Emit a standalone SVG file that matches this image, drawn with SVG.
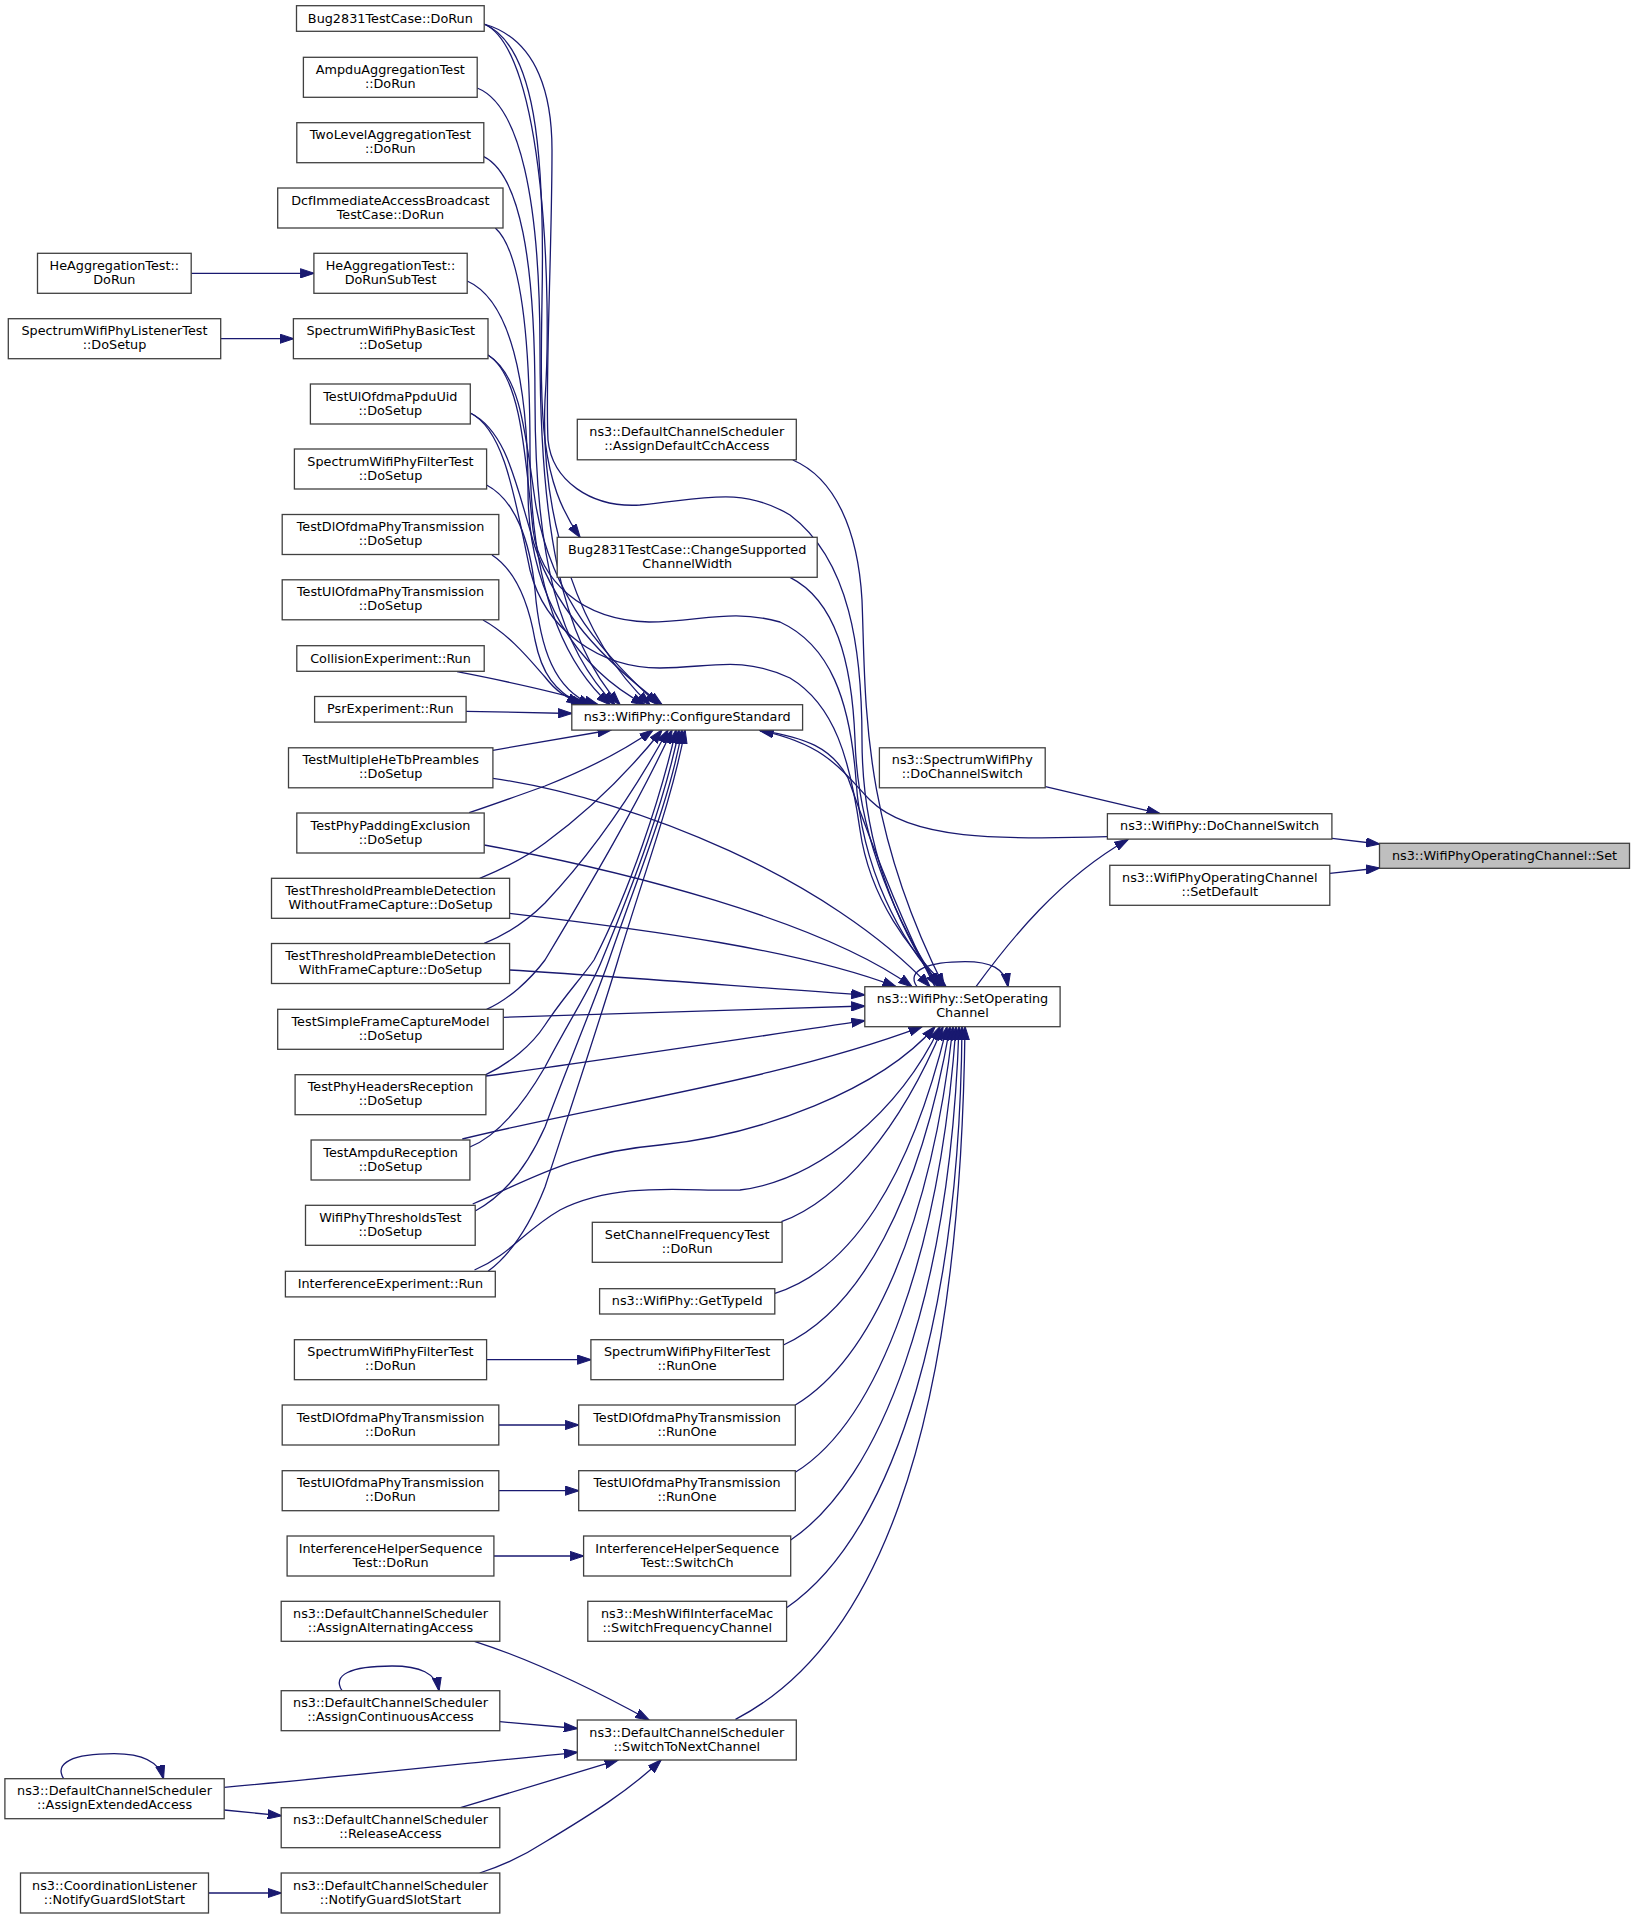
<svg xmlns="http://www.w3.org/2000/svg" width="1635" height="1919" viewBox="0 0 1635 1919">
<style>
.n rect{fill:#ffffff;stroke:#404040;stroke-width:1.3}
.n.cur rect{fill:#bfbfbf}
.n text{font-family:"DejaVu Sans","Liberation Sans",sans-serif;font-size:12.8px;text-anchor:middle;fill:#000}
.e path{fill:none;stroke:#191970;stroke-width:1.3;marker-end:url(#ah)}
</style>
<defs>
<marker id="ah" markerUnits="userSpaceOnUse" markerWidth="14" markerHeight="10" viewBox="0 0 14 10" refX="13.5" refY="5" orient="auto"><path d="M0,0.4 L14,5 L0,9.6 z" fill="#191970" stroke="#191970" stroke-width="1"/></marker>
</defs>
<rect width="1635" height="1919" fill="#ffffff"/>
<g id="edges" class="e">
<path d="M191.2,273.3 L313.9,273.3"/>
<path d="M220.7,338.7 L293.4,338.7"/>
<path d="M486.6,1359.7 L590.9,1359.7"/>
<path d="M498.8,1425 L578.7,1425"/>
<path d="M498.8,1490.7 L578.7,1490.7"/>
<path d="M493.9,1556 L583.6,1556"/>
<path d="M208.5,1893 L281.2,1893"/>
<path d="M224.2,1810 L281.2,1815.7"/>
<path d="M224.2,1787.3 C 340,1777 460,1764 577.3,1752.3"/>
<path d="M499.8,1721.7 L577.3,1728.5"/>
<path d="M474.4,1641.3 C 520,1656 580,1682 649,1720"/>
<path d="M460.5,1807.7 C 500,1796 560,1778 618,1760"/>
<path d="M479.7,1873 C 505,1865 525,1855 545,1842 C 590,1815 630,1790 661,1760"/>
<path d="M342,1690.7 C 332,1675 350,1666 392,1666 C 420,1666 436,1673 439,1690.7"/>
<path d="M63.6,1778.7 C 54,1763 72,1753.7 114,1753.7 C 142,1753.7 159,1761 163.4,1778.7"/>
<path d="M917,986.7 C 905,970 930,961.7 965,961.7 C 990,961.7 1005,968 1008,986.7"/>
<path d="M976,986.7 C 1010,940 1060,878 1128,839.5"/>
<path d="M1107.4,836.7 C 1000,840 910,840 870,800 C 845,775 830,745 760,730.5"/>
<path d="M935,986.7 C 900,920 870,840 848,778 C 832,748 805,737 760,730.5"/>
<path d="M1045.5,786.7 L1160,813.7"/>
<path d="M1332,838.3 L1379.5,844"/>
<path d="M1329.8,873.3 L1379.5,868"/>
<path d="M792.8,460 C 835,478 858,530 862,600 C 866,700 860,820 944,986.7"/>
<path d="M790,577.3 C 835,600 852,660 855,740 C 858,840 900,930 940,986.7"/>
<path d="M484,24 C 535,45 545,150 542,300 C 540,420 540,480 580,537.3"/>
<path d="M484,24 C 545,50 552,300 545,400 C 540,520 580,640 650,704.7"/>
<path d="M484,24 C 540,40 552,100 552,150 C 552,250 545,380 548,440 C 552,480 590,508 640,505 C 700,500 740,485 790,515 C 850,560 862,650 862,740 C 862,850 900,930 938,986.7"/>
<path d="M477.2,88 C 520,105 540,200 540,350 C 540,520 560,640 620,704.7"/>
<path d="M483.8,156.7 C 520,175 535,260 535,400 C 535,560 560,650 615,704.7"/>
<path d="M495.3,228 C 520,250 530,330 530,450 C 530,580 560,660 610,704.7"/>
<path d="M467.2,281 C 510,300 528,380 528,490 C 528,600 580,670 645,704.7"/>
<path d="M488,355 C 520,375 525,430 535,500 C 550,600 610,660 658,704.7"/>
<path d="M470.3,413 C 505,430 515,480 530,530 C 550,610 610,665 662,704.7"/>
<path d="M488,355 C 520,375 525,450 533,530 C 540,580 580,620 649,622 C 700,622 730,608 780,622 C 830,645 850,700 856,780 C 862,870 900,940 942,986.7"/>
<path d="M470.3,413 C 505,430 515,500 530,570 C 545,630 600,668 660,668 C 710,668 740,655 790,678 C 835,705 850,760 860,830 C 870,900 910,950 946,986.7"/>
<path d="M486.6,485 C 515,500 530,540 535,590 C 540,650 555,690 592,704.7"/>
<path d="M492,555 C 515,570 528,600 535,640 C 542,675 555,690 580,704.7"/>
<path d="M483,620 C 510,635 530,660 545,677 C 555,690 565,698 585,704.7"/>
<path d="M457,671.7 C 500,680 560,693 598,704.7"/>
<path d="M466,711.3 L571.8,713.5"/>
<path d="M492.9,750.3 C 530,744 570,737 611,730"/>
<path d="M469.2,812.7 C 495,804 520,795 545,786 C 590,768 625,750 653,730"/>
<path d="M479.7,878.3 C 500,870 525,858 545,843 C 590,810 630,770 662,730"/>
<path d="M484.2,943.3 C 505,935 528,920 545,903 C 595,850 635,790 668,730"/>
<path d="M486.6,1009.3 C 508,1000 530,980 545,960 C 590,885 640,800 672,730"/>
<path d="M485.9,1074.7 C 510,1063 532,1045 545,1025 C 565,995 580,980 594,960 C 630,890 660,800 676,730"/>
<path d="M469.9,1147 C 495,1137 520,1110 545,1067 C 575,1010 590,990 602,960 C 635,880 665,800 679,730"/>
<path d="M475.2,1211 C 505,1195 528,1165 545,1127 C 570,1060 595,1000 609,960 C 640,870 670,800 682,730"/>
<path d="M488,1271.3 C 510,1255 530,1225 545,1187 C 570,1110 600,1020 618,960 C 645,870 672,800 685,730"/>
<path d="M492.9,778.3 C 640,800 830,880 930,986.7"/>
<path d="M484.2,845 C 620,870 820,920 912,986.7"/>
<path d="M509.6,913.3 C 650,930 800,950 896,986.7"/>
<path d="M509.6,970 C 640,978 760,988 864.8,995"/>
<path d="M503.3,1017.3 C 640,1013 760,1009 864.8,1006"/>
<path d="M486,1076 C 620,1058 760,1036 864.8,1020.7"/>
<path d="M462.3,1139 C 600,1105 780,1080 922,1026.7"/>
<path d="M472.7,1204 C 530,1180 570,1153 660,1145 C 760,1135 880,1090 935,1026.7"/>
<path d="M474.5,1270 C 510,1255 525,1230 560,1210 C 620,1180 690,1192 740,1190 C 820,1180 900,1110 940,1026.7"/>
<path d="M781.4,1221.7 C 840,1200 900,1130 943,1026.7"/>
<path d="M775,1293.3 C 850,1270 910,1180 947,1026.7"/>
<path d="M783.4,1345 C 860,1310 920,1200 950,1026.7"/>
<path d="M795.3,1405 C 870,1360 930,1230 953,1026.7"/>
<path d="M795.3,1472.3 C 880,1420 940,1250 956,1026.7"/>
<path d="M790.7,1540 C 880,1480 950,1300 959,1026.7"/>
<path d="M786.6,1607.7 C 900,1530 960,1300 962,1026.7"/>
<path d="M735.5,1719.3 C 870,1650 960,1450 965,1026.7"/>
</g>
<g id="n_bug_dorun" class="n"><rect x="296.5" y="5.7" width="187.7" height="25.6"/><text x="390.35" y="22.5">Bug2831TestCase::DoRun</text></g>
<g id="n_ampdu" class="n"><rect x="303.4" y="57.3" width="173.8" height="40"/><text x="390.3" y="73.8">AmpduAggregationTest</text><text x="390.3" y="87.8">::DoRun</text></g>
<g id="n_twolevel" class="n"><rect x="296.8" y="122.7" width="187" height="40"/><text x="390.3" y="139.2">TwoLevelAggregationTest</text><text x="390.3" y="153.2">::DoRun</text></g>
<g id="n_dcf" class="n"><rect x="277.7" y="188" width="225.3" height="40"/><text x="390.35" y="204.5">DcfImmediateAccessBroadcast</text><text x="390.35" y="218.5">TestCase::DoRun</text></g>
<g id="n_hesub" class="n"><rect x="313.9" y="253.3" width="153.3" height="40"/><text x="390.55" y="269.8">HeAggregationTest::</text><text x="390.55" y="283.8">DoRunSubTest</text></g>
<g id="n_hedorun" class="n"><rect x="37.5" y="253.3" width="153.7" height="40"/><text x="114.35" y="269.8">HeAggregationTest::</text><text x="114.35" y="283.8">DoRun</text></g>
<g id="n_specbasic" class="n"><rect x="293.4" y="318.7" width="194.6" height="40"/><text x="390.7" y="335.2">SpectrumWifiPhyBasicTest</text><text x="390.7" y="349.2">::DoSetup</text></g>
<g id="n_speclistener" class="n"><rect x="8.3" y="318.7" width="212.4" height="40"/><text x="114.5" y="335.2">SpectrumWifiPhyListenerTest</text><text x="114.5" y="349.2">::DoSetup</text></g>
<g id="n_ulppdu" class="n"><rect x="310.4" y="384" width="159.9" height="40"/><text x="390.35" y="400.5">TestUlOfdmaPpduUid</text><text x="390.35" y="414.5">::DoSetup</text></g>
<g id="n_specfilter_setup" class="n"><rect x="294.4" y="449" width="192.2" height="40"/><text x="390.5" y="465.5">SpectrumWifiPhyFilterTest</text><text x="390.5" y="479.5">::DoSetup</text></g>
<g id="n_dl_setup" class="n"><rect x="282.2" y="514.5" width="216.6" height="40"/><text x="390.5" y="531">TestDlOfdmaPhyTransmission</text><text x="390.5" y="545">::DoSetup</text></g>
<g id="n_ul_setup" class="n"><rect x="282.2" y="579.8" width="216.6" height="40"/><text x="390.5" y="596.3">TestUlOfdmaPhyTransmission</text><text x="390.5" y="610.3">::DoSetup</text></g>
<g id="n_collision" class="n"><rect x="296.8" y="645.7" width="187.4" height="25.6"/><text x="390.5" y="662.5">CollisionExperiment::Run</text></g>
<g id="n_psr" class="n"><rect x="314.6" y="696.5" width="151.5" height="25.6"/><text x="390.35" y="713.3">PsrExperiment::Run</text></g>
<g id="n_multihetb" class="n"><rect x="288.5" y="747.8" width="204.4" height="40"/><text x="390.7" y="764.3">TestMultipleHeTbPreambles</text><text x="390.7" y="778.3">::DoSetup</text></g>
<g id="n_padding" class="n"><rect x="296.8" y="813" width="187.4" height="40"/><text x="390.5" y="829.5">TestPhyPaddingExclusion</text><text x="390.5" y="843.5">::DoSetup</text></g>
<g id="n_withoutfc" class="n"><rect x="271.5" y="878.3" width="238.1" height="40"/><text x="390.55" y="894.8">TestThresholdPreambleDetection</text><text x="390.55" y="908.8">WithoutFrameCapture::DoSetup</text></g>
<g id="n_withfc" class="n"><rect x="271.5" y="943.5" width="238.1" height="40"/><text x="390.55" y="960">TestThresholdPreambleDetection</text><text x="390.55" y="974">WithFrameCapture::DoSetup</text></g>
<g id="n_simplefc" class="n"><rect x="277.7" y="1009.3" width="225.6" height="40"/><text x="390.5" y="1025.8">TestSimpleFrameCaptureModel</text><text x="390.5" y="1039.8">::DoSetup</text></g>
<g id="n_phyheaders" class="n"><rect x="295.1" y="1074.7" width="190.8" height="40"/><text x="390.5" y="1091.2">TestPhyHeadersReception</text><text x="390.5" y="1105.2">::DoSetup</text></g>
<g id="n_ampdurx" class="n"><rect x="311.1" y="1140" width="158.8" height="40"/><text x="390.5" y="1156.5">TestAmpduReception</text><text x="390.5" y="1170.5">::DoSetup</text></g>
<g id="n_thresholds" class="n"><rect x="305.5" y="1205.3" width="169.7" height="40"/><text x="390.35" y="1221.8">WifiPhyThresholdsTest</text><text x="390.35" y="1235.8">::DoSetup</text></g>
<g id="n_interfexp" class="n"><rect x="285.4" y="1271.3" width="209.9" height="25.6"/><text x="390.35" y="1288.1">InterferenceExperiment::Run</text></g>
<g id="n_specfilter_run" class="n"><rect x="294.4" y="1339.7" width="192.2" height="40"/><text x="390.5" y="1356.2">SpectrumWifiPhyFilterTest</text><text x="390.5" y="1370.2">::DoRun</text></g>
<g id="n_dl_run" class="n"><rect x="282.2" y="1405" width="216.6" height="40"/><text x="390.5" y="1421.5">TestDlOfdmaPhyTransmission</text><text x="390.5" y="1435.5">::DoRun</text></g>
<g id="n_ul_run" class="n"><rect x="282.2" y="1470.7" width="216.6" height="40"/><text x="390.5" y="1487.2">TestUlOfdmaPhyTransmission</text><text x="390.5" y="1501.2">::DoRun</text></g>
<g id="n_ihs_run" class="n"><rect x="287.1" y="1536" width="206.8" height="40"/><text x="390.5" y="1552.5">InterferenceHelperSequence</text><text x="390.5" y="1566.5">Test::DoRun</text></g>
<g id="n_alternating" class="n"><rect x="281.2" y="1601.3" width="218.6" height="40"/><text x="390.5" y="1617.8">ns3::DefaultChannelScheduler</text><text x="390.5" y="1631.8">::AssignAlternatingAccess</text></g>
<g id="n_continuous" class="n"><rect x="281.2" y="1690.7" width="218.6" height="40"/><text x="390.5" y="1707.2">ns3::DefaultChannelScheduler</text><text x="390.5" y="1721.2">::AssignContinuousAccess</text></g>
<g id="n_extended" class="n"><rect x="4.9" y="1778.7" width="219.3" height="40"/><text x="114.55" y="1795.2">ns3::DefaultChannelScheduler</text><text x="114.55" y="1809.2">::AssignExtendedAccess</text></g>
<g id="n_release" class="n"><rect x="281.2" y="1807.7" width="218.6" height="40"/><text x="390.5" y="1824.2">ns3::DefaultChannelScheduler</text><text x="390.5" y="1838.2">::ReleaseAccess</text></g>
<g id="n_coordlistener" class="n"><rect x="20.5" y="1873" width="188" height="40"/><text x="114.5" y="1889.5">ns3::CoordinationListener</text><text x="114.5" y="1903.5">::NotifyGuardSlotStart</text></g>
<g id="n_dcs_guard" class="n"><rect x="281.2" y="1873" width="218.6" height="40"/><text x="390.5" y="1889.5">ns3::DefaultChannelScheduler</text><text x="390.5" y="1903.5">::NotifyGuardSlotStart</text></g>
<g id="n_defaultcch" class="n"><rect x="577.3" y="419.3" width="219" height="40.5"/><text x="686.8" y="436">ns3::DefaultChannelScheduler</text><text x="686.8" y="450">::AssignDefaultCchAccess</text></g>
<g id="n_changesupported" class="n"><rect x="557.2" y="537.3" width="260" height="40"/><text x="687.2" y="553.8">Bug2831TestCase::ChangeSupported</text><text x="687.2" y="567.8">ChannelWidth</text></g>
<g id="n_configure" class="n"><rect x="571.8" y="704.7" width="230.8" height="25.4"/><text x="687.2" y="721.4">ns3::WifiPhy::ConfigureStandard</text></g>
<g id="n_spectrum_dcs" class="n"><rect x="879.4" y="747.8" width="165.8" height="40"/><text x="962.3" y="764.3">ns3::SpectrumWifiPhy</text><text x="962.3" y="778.3">::DoChannelSwitch</text></g>
<g id="n_dochannelswitch" class="n"><rect x="1107.4" y="813.7" width="224.5" height="25.4"/><text x="1219.65" y="830.4">ns3::WifiPhy::DoChannelSwitch</text></g>
<g id="n_set" class="n cur"><rect x="1379.5" y="843.3" width="250" height="25"/><text x="1504.5" y="859.8">ns3::WifiPhyOperatingChannel::Set</text></g>
<g id="n_setdefault" class="n"><rect x="1109.8" y="865.3" width="220" height="40"/><text x="1219.8" y="881.8">ns3::WifiPhyOperatingChannel</text><text x="1219.8" y="895.8">::SetDefault</text></g>
<g id="n_setop" class="n"><rect x="864.8" y="986.7" width="195.3" height="40"/><text x="962.45" y="1003.2">ns3::WifiPhy::SetOperating</text><text x="962.45" y="1017.2">Channel</text></g>
<g id="n_setchanfreq" class="n"><rect x="592.3" y="1222.3" width="189.8" height="40"/><text x="687.2" y="1238.8">SetChannelFrequencyTest</text><text x="687.2" y="1252.8">::DoRun</text></g>
<g id="n_gettypeid" class="n"><rect x="599.6" y="1288.7" width="175.2" height="25.3"/><text x="687.2" y="1305.3">ns3::WifiPhy::GetTypeId</text></g>
<g id="n_specfilter_runone" class="n"><rect x="590.9" y="1339.7" width="192.5" height="40"/><text x="687.15" y="1356.2">SpectrumWifiPhyFilterTest</text><text x="687.15" y="1370.2">::RunOne</text></g>
<g id="n_dl_runone" class="n"><rect x="578.7" y="1405" width="216.6" height="40"/><text x="687" y="1421.5">TestDlOfdmaPhyTransmission</text><text x="687" y="1435.5">::RunOne</text></g>
<g id="n_ul_runone" class="n"><rect x="578.7" y="1470.7" width="216.6" height="40"/><text x="687" y="1487.2">TestUlOfdmaPhyTransmission</text><text x="687" y="1501.2">::RunOne</text></g>
<g id="n_switchch" class="n"><rect x="583.6" y="1536" width="207.1" height="40"/><text x="687.15" y="1552.5">InterferenceHelperSequence</text><text x="687.15" y="1566.5">Test::SwitchCh</text></g>
<g id="n_mesh" class="n"><rect x="587.8" y="1601.3" width="198.8" height="40"/><text x="687.2" y="1617.8">ns3::MeshWifiInterfaceMac</text><text x="687.2" y="1631.8">::SwitchFrequencyChannel</text></g>
<g id="n_switchnext" class="n"><rect x="577.3" y="1720" width="219" height="40"/><text x="686.8" y="1736.5">ns3::DefaultChannelScheduler</text><text x="686.8" y="1750.5">::SwitchToNextChannel</text></g>
</svg>
